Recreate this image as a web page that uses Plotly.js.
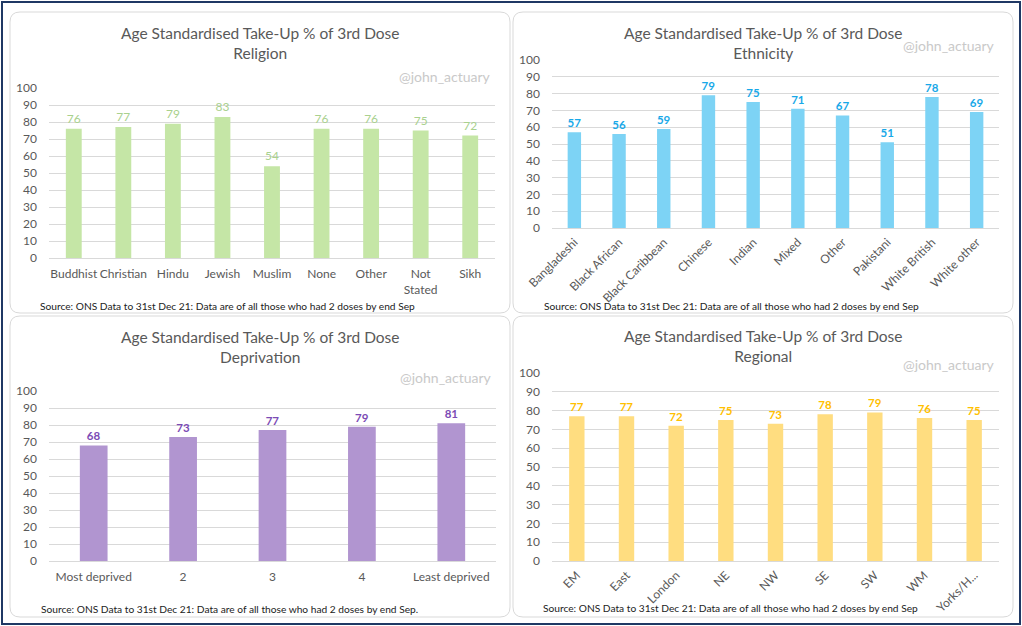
<!DOCTYPE html>
<html>
<head>
<meta charset="utf-8">
<script src="https://cdn.plot.ly/plotly-3.0.1.min.js"></script>
<style>
  html, body { margin: 0; padding: 0; background: #ffffff; }
  #chart { width: 1022px; height: 626px; }
</style>
</head>
<body>
<div id="chart"></div>
<script>
// Age standardised take-up of the 3rd dose, by group
const religionCats = ["Buddhist", "Christian", "Hindu", "Jewish", "Muslim", "None", "Other", "Not Stated", "Sikh"];
const religionTicks = ["Buddhist", "Christian", "Hindu", "Jewish", "Muslim", "None", "Other", "Not<br>Stated", "Sikh"];
const religionVals = [76, 77, 79, 83, 54, 76, 76, 75, 72];

const ethnicityCats = ["Bangladeshi", "Black African", "Black Caribbean", "Chinese", "Indian", "Mixed", "Other", "Pakistani", "White British", "White other"];
const ethnicityVals = [57, 56, 59, 79, 75, 71, 67, 51, 78, 69];

const deprivationCats = ["Most deprived", "2", "3", "4", "Least deprived"];
const deprivationVals = [68, 73, 77, 79, 81];

const regionCats = ["EM", "East", "London", "NE", "NW", "SE", "SW", "WM", "Yorks/H..."];
const regionVals = [77, 77, 72, 75, 73, 78, 79, 76, 75];

const titleLine1 = "Age Standardised Take-Up % of 3rd Dose";
const subtitles = ["Religion", "Ethnicity", "Deprivation", "Regional"];
const handle = "@john_actuary";
const sourceText = "Source: ONS Data to 31st Dec 21: Data are of all those who had 2 doses by end Sep";

const W = 1022, H = 626;
const fx = x => x / W;
const fy = y => 1 - y / H;
const FONT = "Lato, 'Open Sans', sans-serif";

// pixel frames of the four cards and their plotting areas
const cards = [[10, 12, 510, 313], [513, 12, 1013, 313], [10, 316, 510, 617], [513, 316, 1013, 617]];
const plots = [[49, 88, 495, 258], [552, 60, 999, 228], [49, 391, 496, 561], [552, 373, 999, 561]];

const barColors = ["#c5e6a6", "#7dd3f5", "#b195d0", "#ffdd80"];
const labelColors = ["#a9d18e", "#18a8e8", "#7b4bb5", "#ffc000"];
const labelBold = [false, true, true, true];
const widths = [0.32, 0.3, 0.31, 0.31];

const series = [
  {cats: religionCats, vals: religionVals, ticks: religionTicks, angle: 0},
  {cats: ethnicityCats, vals: ethnicityVals, ticks: ethnicityCats, angle: -45},
  {cats: deprivationCats, vals: deprivationVals, ticks: deprivationCats, angle: 0},
  {cats: regionCats, vals: regionVals, ticks: regionCats, angle: -45}
];

const traces = [];
const layout = {
  width: W, height: H,
  margin: {l: 0, r: 0, t: 0, b: 0},
  paper_bgcolor: "#ffffff",
  plot_bgcolor: "rgba(0,0,0,0)",
  showlegend: false,
  font: {family: FONT, color: "#595959"},
  shapes: [], annotations: []
};

function roundedRect(b, r) {
  const [x0, y0, x1, y1] = b;
  const P = (x, y) => fx(x) + "," + fy(y);
  return "M" + P(x0 + r, y0) + " L" + P(x1 - r, y0) +
    " Q" + P(x1, y0) + " " + P(x1, y0 + r) +
    " L" + P(x1, y1 - r) + " Q" + P(x1, y1) + " " + P(x1 - r, y1) +
    " L" + P(x0 + r, y1) + " Q" + P(x0, y1) + " " + P(x0, y1 - r) +
    " L" + P(x0, y0 + r) + " Q" + P(x0, y0) + " " + P(x0 + r, y0) + " Z";
}

// outer frame
layout.shapes.push({type: "rect", xref: "paper", yref: "paper",
  x0: fx(2), x1: fx(1020), y0: fy(624), y1: fy(2),
  line: {color: "#1f3864", width: 2}, fillcolor: "rgba(0,0,0,0)", layer: "below"});

const titlePos = [[260, 43], [763, 43], [260, 347], [763, 346]];
const handlePos = [[493, 76], [997, 46], [494, 377], [997, 364]];
const sourcePos = [[38, 306], [542, 306], [39, 609], [541, 608]];

series.forEach((s, i) => {
  const n = i + 1;
  const xa = "x" + (n === 1 ? "" : n), ya = "y" + (n === 1 ? "" : n);
  const p = plots[i];
  traces.push({
    type: "bar", x: s.cats, y: s.vals, xaxis: xa, yaxis: ya,
    width: widths[i],
    marker: {color: barColors[i], line: {width: 0}},
    text: s.vals.map(String), textposition: "outside", constraintext: "none",
    cliponaxis: false,
    textfont: {family: FONT, size: labelBold[i] ? 11.5 : 12, color: labelColors[i], weight: labelBold[i] ? "bold" : "normal"},
    hoverinfo: "x+y"
  });
  layout["xaxis" + (n === 1 ? "" : n)] = {
    domain: [fx(p[0]), fx(p[2])], anchor: ya,
    type: "category", tickmode: "array", tickvals: s.cats, ticktext: s.ticks,
    tickangle: s.angle, showgrid: false, showline: false, zeroline: false, ticks: "",
    ticklabelstandoff: s.angle === 0 ? 7 : 4,
    tickfont: {family: FONT, size: 12, color: "#595959"}, fixedrange: true
  };
  layout["yaxis" + (n === 1 ? "" : n)] = {
    domain: [fy(p[3]), fy(p[1])], anchor: xa,
    range: [0, 100], dtick: 10, tick0: 0,
    showgrid: true, gridcolor: "#d9d9d9", gridwidth: 1,
    zeroline: true, zerolinecolor: "#d9d9d9", zerolinewidth: 1,
    showline: false, ticks: "", ticklabelstandoff: 11,
    tickfont: {family: FONT, size: 12, color: "#595959"}, fixedrange: true
  };
  layout.shapes.push({type: "path", xref: "paper", yref: "paper",
    path: roundedRect(cards[i], 10), line: {color: "#d9d9d9", width: 1},
    fillcolor: "#ffffff", layer: "below"});
  layout.annotations.push({xref: "paper", yref: "paper",
    x: fx(titlePos[i][0]), y: fy(titlePos[i][1]), xanchor: "center", yanchor: "middle",
    text: titleLine1 + "<br>" + subtitles[i], showarrow: false,
    font: {family: FONT, size: 15.5, color: "#595959"}});
  layout.annotations.push({xref: "paper", yref: "paper",
    x: fx(handlePos[i][0]), y: fy(handlePos[i][1]), xanchor: "right", yanchor: "middle",
    text: handle, showarrow: false,
    font: {family: FONT, size: 14, color: "#c9c9c9"}});
  layout.annotations.push({xref: "paper", yref: "paper",
    x: fx(sourcePos[i][0]), y: fy(sourcePos[i][1]), xanchor: "left", yanchor: "middle",
    text: sourceText + (i === 2 ? "." : ""), showarrow: false,
    font: {family: FONT, size: 10.2, color: "#222222"}});
});

Plotly.newPlot("chart", traces, layout, {displayModeBar: false, staticPlot: true});
</script>
</body>
</html>
